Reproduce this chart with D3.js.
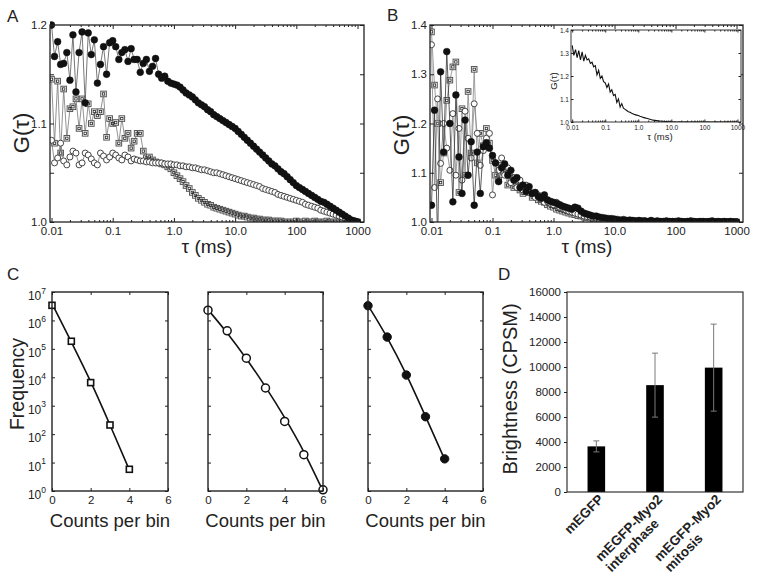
<!DOCTYPE html>
<html><head><meta charset="utf-8">
<script src="https://cdn.jsdelivr.net/npm/d3@7"></script>
<style>
body{margin:0;background:#fff}
svg{display:block}
text{font-family:"Liberation Sans",Arial,Helvetica,sans-serif;fill:#222}
</style>
</head><body>
<svg id="fig" width="763" height="576"></svg>
<script>
// ---------------- DATA ----------------
const tau = [0.01,0.0112,0.0126,0.0141,0.0158,0.0178,0.02,0.0224,0.0251,0.0282,0.0316,0.0355,0.0398,0.0447,0.0501,0.0562,0.0631,0.0708,0.0794,0.0891,
0.1,0.112,0.126,0.141,0.158,0.178,0.2,0.224,0.251,0.282,0.316,0.355,0.398,0.447,0.501,0.562,0.631,0.708,0.794,0.891,
1,1.12,1.26,1.41,1.58,1.78,2,2.24,2.51,2.82,3.16,3.55,3.98,4.47,5.01,5.62,6.31,7.08,7.94,8.91,
10,11.2,12.6,14.1,15.8,17.8,20,22.4,25.1,28.2,31.6,35.5,39.8,44.7,50.1,56.2,63.1,70.8,79.4,89.1,
100,112,126,141,158,178,200,224,251,282,316,355,398,447,501,562,631,708,794,891,1000];

const aFilled = [1.200,1.168,1.183,1.160,1.161,1.172,1.144,1.190,1.132,1.172,1.193,1.121,1.192,1.170,1.185,1.141,1.160,1.178,1.150,1.182,
1.184,1.178,1.165,1.172,1.175,1.163,1.176,1.165,1.165,1.152,1.161,1.165,1.153,1.158,1.166,1.150,1.146,1.148,1.143,1.141,
1.140,1.139,1.137,1.134,1.131,1.129,1.127,1.124,1.121,1.119,1.117,1.114,1.112,1.109,1.107,1.105,1.103,1.101,1.099,1.097,
1.095,1.092,1.089,1.086,1.083,1.080,1.077,1.074,1.071,1.068,1.065,1.062,1.059,1.057,1.054,1.051,1.049,1.046,1.043,1.040,
1.037,1.035,1.033,1.031,1.029,1.027,1.025,1.023,1.021,1.020,1.018,1.016,1.014,1.012,1.010,1.008,1.006,1.004,1.002,1.001,1.000];

const aSquare = [1.145,1.080,1.143,1.070,1.135,1.085,1.115,1.117,1.125,1.095,1.125,1.090,1.120,1.100,1.112,1.108,1.112,1.130,1.086,1.105,
1.100,1.101,1.080,1.105,1.085,1.090,1.075,1.082,1.090,1.090,1.072,1.065,1.066,1.063,1.061,1.060,1.059,1.058,1.056,1.054,
1.050,1.047,1.044,1.041,1.037,1.034,1.030,1.027,1.024,1.022,1.020,1.018,1.017,1.015,1.014,1.013,1.012,1.011,1.010,1.009,
1.008,1.007,1.006,1.006,1.005,1.004,1.004,1.003,1.003,1.002,1.002,1.002,1.001,1.001,1.001,1.001,1.000,1.000,1.000,1.000,
1.001,1.000,1.000,1.001,1.000,1.000,1.001,1.000,1.000,1.000,1.001,1.000,1.000,1.000,1.000,1.000,1.000,1.000,1.000,1.000,1.000];

const aOpen = [1.083,1.060,1.065,1.080,1.062,1.058,1.066,1.072,1.070,1.058,1.060,1.070,1.068,1.064,1.060,1.058,1.070,1.067,1.063,1.066,
1.070,1.068,1.065,1.063,1.068,1.066,1.062,1.064,1.063,1.062,1.062,1.061,1.061,1.060,1.060,1.060,1.060,1.059,1.059,1.059,
1.058,1.058,1.057,1.057,1.056,1.056,1.055,1.055,1.054,1.053,1.053,1.052,1.051,1.050,1.050,1.049,1.048,1.047,1.046,1.045,
1.044,1.043,1.042,1.041,1.040,1.039,1.038,1.037,1.036,1.034,1.033,1.032,1.031,1.030,1.028,1.027,1.026,1.025,1.024,1.023,
1.022,1.021,1.020,1.018,1.017,1.016,1.015,1.014,1.012,1.011,1.010,1.009,1.008,1.007,1.006,1.005,1.004,1.003,1.002,1.001,1.000];

const bFilled = [1.034,1.227,0.960,1.305,1.142,1.346,1.200,1.041,1.258,1.132,1.058,1.207,1.095,1.163,1.034,1.142,1.058,1.153,1.161,1.150,
1.135,1.120,1.082,1.110,1.118,1.095,1.105,1.085,1.090,1.070,1.075,1.062,1.072,1.058,1.060,1.052,1.048,1.055,1.045,1.042,
1.040,1.038,1.035,1.032,1.030,1.028,1.026,1.030,1.028,1.022,1.018,1.016,1.014,1.012,1.012,1.010,1.009,1.008,1.007,1.007,
1.006,1.005,1.004,1.005,1.003,1.004,1.003,1.002,1.003,1.002,1.002,1.001,1.003,1.001,1.002,1.001,1.001,1.002,1.001,1.001,
1.001,1.002,1.001,1.000,1.001,1.002,1.001,1.000,1.001,1.001,1.000,1.001,1.002,1.000,1.001,1.000,1.001,1.000,1.001,1.000,1.000];

const bSquare = [1.386,1.278,1.200,1.080,1.140,1.247,1.288,1.315,1.325,1.060,1.230,1.095,1.265,1.140,1.310,1.120,1.180,1.155,1.190,1.160,
1.125,1.095,1.085,1.115,1.100,1.075,1.090,1.070,1.080,1.065,1.058,1.072,1.060,1.050,1.055,1.045,1.042,1.040,1.035,1.032,
1.030,1.026,1.024,1.022,1.020,1.018,1.016,1.015,1.013,1.012,1.010,1.009,1.008,1.007,1.006,1.005,1.005,1.004,1.004,1.003,
1.003,1.002,1.003,1.002,1.002,1.001,1.002,1.001,1.001,1.002,1.001,1.001,1.000,1.001,1.001,1.000,1.001,1.000,1.001,1.000,
1.000,1.001,1.000,1.001,1.000,1.000,1.001,1.000,1.000,1.001,1.000,1.000,1.001,1.000,1.000,1.001,1.000,1.000,1.000,1.001,1.000];

const bOpen = [1.360,1.070,1.250,1.119,1.200,1.150,1.105,1.220,1.095,1.190,1.085,1.225,1.170,1.130,1.240,1.180,1.115,1.145,1.170,1.180,
1.055,1.120,1.105,1.130,1.095,1.110,1.080,1.090,1.070,1.085,1.065,1.075,1.060,1.058,1.050,1.055,1.045,1.040,1.042,1.038,
1.035,1.040,1.030,1.028,1.025,1.022,1.020,1.018,1.016,1.014,1.012,1.011,1.010,1.009,1.008,1.007,1.006,1.005,1.005,1.004,
1.004,1.003,1.003,1.002,1.003,1.002,1.002,1.001,1.002,1.001,1.002,1.001,1.001,1.000,1.001,1.001,1.000,1.001,1.000,1.001,
1.000,1.001,1.000,1.000,1.001,1.000,1.001,1.000,1.000,1.000,1.001,1.000,1.000,1.001,1.000,1.000,1.000,1.001,1.000,1.000,1.000];

const bInset = [1.333,1.290,1.315,1.280,1.310,1.270,1.305,1.265,1.290,1.270,1.275,1.255,1.260,1.240,1.245,1.205,1.225,1.190,1.200,1.175,
1.170,1.150,1.165,1.130,1.140,1.115,1.120,1.085,1.100,1.065,1.080,1.060,1.055,1.050,1.045,1.042,1.038,1.035,1.032,1.030,
1.028,1.025,1.023,1.020,1.018,1.016,1.014,1.012,1.010,1.008,1.007,1.006,1.005,1.004,1.003,1.003,1.002,1.002,1.001,1.001,
1.001,1.000,1.001,1.000,1.000,1.001,1.000,1.000,1.000,1.001,1.000,1.000,1.000,1.000,1.001,1.000,1.000,1.000,1.000,1.000,
1.000,1.000,1.001,1.000,1.000,1.000,1.000,1.001,1.000,1.000,1.000,1.000,1.000,1.000,1.001,1.000,1.000,1.000,1.000,1.000,1.000];

const tauTicks = [0.01, 0.1, 1, 10, 100, 1000];
const tauTickLabels = ["0.01", "0.1", "1.0", "10.0", "100", "1000"];
const aYTicks = [1.0, 1.05, 1.1, 1.15, 1.2];
const aYLabels = {"1": "1.0", "1.1": "1.1", "1.2": "1.2"};
const bYTicks = [1.0, 1.1, 1.2, 1.3, 1.4];
const bYLabels = {"1": "1.0", "1.1": "1.1", "1.2": "1.2", "1.3": "1.3", "1.4": "1.4"};

const countsC1 = [0, 1, 2, 3, 4];
const freqC1 = [3.4e6, 1.85e5, 6.5e3, 2.1e2, 5.8];
const fitC1 = [3.9e6, 1.75e5, 7.0e3, 2.1e2, 5.5];
const countsC2 = [0, 1, 2, 3, 4, 5, 6];
const freqC2 = [2.3e6, 4.3e5, 4.7e4, 4.2e3, 2.8e2, 1.9e1, 1.1];
const fitC2 = [2.4e6, 3.6e5, 4.5e4, 4.6e3, 3.8e2, 2.4e1, 1.0];
const countsC3 = [0, 1, 2, 3, 4];
const freqC3 = [3.3e6, 2.6e5, 1.2e4, 4.1e2, 1.35e1];
const fitC3 = [3.4e6, 2.5e5, 1.25e4, 4.2e2, 1.3e1];
const cXTicks = [0, 2, 4, 6];
const cYTicks = [1, 10, 100, 1e3, 1e4, 1e5, 1e6, 1e7];
const cYExponents = ["0", "1", "2", "3", "4", "5", "6", "7"];

const categories = [["mEGFP"], ["mEGFP-Myo2", "interphase"], ["mEGFP-Myo2", "mitosis"]];
const brightness = [3650, 8550, 9950];
const brightnessErr = [440, 2560, 3480];
const dYTicks = [0, 2000, 4000, 6000, 8000, 10000, 12000, 14000, 16000];

// ---------------- DRAWING ----------------
const svg = d3.select("#fig");
const FONT = '"Liberation Sans",Arial,Helvetica,sans-serif';
const INK = "#222";

function styleAxis(sel, fs) {
  sel.select(".domain").remove();
  sel.selectAll("line").attr("stroke", INK).attr("stroke-width", 1);
  sel.selectAll("text").attr("font-size", fs).attr("font-family", FONT).attr("fill", "#333");
}

function frame(g, x0, x1, y0, y1, w) {
  g.append("rect").attr("x", x0).attr("y", y0).attr("width", x1 - x0).attr("height", y1 - y0)
    .attr("fill", "none").attr("stroke", INK).attr("stroke-width", w || 1.2);
}

function logTimeAxes(g, x, y, yTicks, yLabels, o) {
  const [x0, x1] = x.range();
  const [y1, y0] = y.range();
  const minor = x.ticks().filter(v => !tauTicks.some(t => Math.abs(t - v) / t < 1e-6));
  const lab = d => tauTickLabels[tauTicks.indexOf(d)];
  g.append("g").attr("transform", `translate(0,${y1})`)
    .call(d3.axisBottom(x).tickValues(tauTicks).tickSize(-o.t).tickPadding(o.px).tickFormat(lab))
    .call(s => styleAxis(s, o.fs));
  g.append("g").attr("transform", `translate(0,${y1})`)
    .call(d3.axisBottom(x).tickValues(minor).tickSize(-o.mt).tickFormat(""))
    .call(s => styleAxis(s, o.fs));
  g.append("g").attr("transform", `translate(0,${y0})`)
    .call(d3.axisTop(x).tickValues(tauTicks).tickSize(-o.t).tickFormat(""))
    .call(s => styleAxis(s, o.fs));
  g.append("g").attr("transform", `translate(0,${y0})`)
    .call(d3.axisTop(x).tickValues(minor).tickSize(-o.mt).tickFormat(""))
    .call(s => styleAxis(s, o.fs));
  g.append("g").attr("transform", `translate(${x0},0)`)
    .call(d3.axisLeft(y).tickValues(yTicks).tickSize(-o.t).tickPadding(o.py)
      .tickFormat(d => yLabels[String(+d.toFixed(2))] || ""))
    .call(s => styleAxis(s, o.fs));
  g.append("g").attr("transform", `translate(${x1},0)`)
    .call(d3.axisRight(y).tickValues(yTicks).tickSize(-o.t).tickFormat(""))
    .call(s => styleAxis(s, o.fs));
  frame(g, x0, x1, y0, y1, o.fw);
}

function drawSeries(g, x, y, vals, kind, lineColor) {
  const pts = tau.map((t, i) => ({ t: t, v: vals[i] }));
  g.append("path").datum(pts)
    .attr("d", d3.line().x(d => x(d.t)).y(d => y(d.v)))
    .attr("fill", "none").attr("stroke", lineColor).attr("stroke-width", 0.8);
  const m = g.append("g");
  if (kind === "filled") {
    m.selectAll("circle").data(pts).join("circle")
      .attr("cx", d => x(d.t)).attr("cy", d => y(d.v)).attr("r", 3.4)
      .attr("fill", "#111").attr("stroke", "#111").attr("stroke-width", 0.5);
  } else if (kind === "open") {
    m.selectAll("circle").data(pts).join("circle")
      .attr("cx", d => x(d.t)).attr("cy", d => y(d.v)).attr("r", 3.0)
      .attr("fill", "#fff").attr("stroke", "#333").attr("stroke-width", 0.9);
  } else {
    const s = 5.6;
    m.selectAll("rect").data(pts).join("rect")
      .attr("x", d => x(d.t) - s / 2).attr("y", d => y(d.v) - s / 2).attr("width", s).attr("height", s)
      .attr("fill", "#fff").attr("stroke", "#555").attr("stroke-width", 1);
    m.selectAll("rect.in").data(pts).join("rect").attr("class", "in")
      .attr("x", d => x(d.t) - 1.2).attr("y", d => y(d.v) - 1.2).attr("width", 2.4).attr("height", 2.4)
      .attr("fill", "none").attr("stroke", "#222").attr("stroke-width", 0.8);
  }
}

function clipFor(id, x0, x1, y0, y1) {
  svg.append("defs").append("clipPath").attr("id", id)
    .append("rect").attr("x", x0).attr("y", y0 - 6).attr("width", x1 - x0).attr("height", y1 - y0 + 6);
}

function label(txt, x, y, fs, opts) {
  const t = svg.append("text").attr("x", x).attr("y", y).attr("font-size", fs)
    .attr("font-family", FONT).attr("fill", INK).text(txt);
  if (opts && opts.anchor) t.attr("text-anchor", opts.anchor);
  if (opts && opts.rot) t.attr("transform", `rotate(${opts.rot},${x},${y})`);
  return t;
}

// ----- Panel A -----
{
  const x = d3.scaleLog().domain([0.00945, 1276]).range([50, 364]);
  const y = d3.scaleLinear().domain([1.0, 1.2]).range([222, 25]);
  const g = svg.append("g");
  clipFor("clipA", 50, 364, 25, 222);
  const data = g.append("g").attr("clip-path", "url(#clipA)");
  drawSeries(data, x, y, aSquare, "square", "#777");
  drawSeries(data, x, y, aOpen, "open", "#777");
  drawSeries(data, x, y, aFilled, "filled", "#555");
  logTimeAxes(g, x, y, aYTicks, aYLabels, { t: 4, mt: 2, px: 5, py: 3, fs: 11.5, fw: 1.3 });
  label("A", 7, 22, 17);
  label("G(τ)", 29, 133, 22, { anchor: "middle", rot: -90 });
  label("τ (ms)", 207, 253, 19, { anchor: "middle" });
}

// ----- Panel B -----
{
  const x = d3.scaleLog().domain([0.00945, 1276]).range([430, 743]);
  const y = d3.scaleLinear().domain([1.0, 1.4]).range([222, 25]);
  const g = svg.append("g");
  clipFor("clipB", 430, 743, 25, 222);
  const data = g.append("g").attr("clip-path", "url(#clipB)");
  drawSeries(data, x, y, bSquare, "square", "#888");
  drawSeries(data, x, y, bOpen, "open", "#888");
  drawSeries(data, x, y, bFilled, "filled", "#333");
  logTimeAxes(g, x, y, bYTicks, bYLabels, { t: 4, mt: 2, px: 5, py: 3, fs: 11.5, fw: 1.3 });
  label("B", 387, 21, 17);
  label("G(τ)", 409, 135, 22, { anchor: "middle", rot: -90 });
  label("τ (ms)", 587, 253, 19, { anchor: "middle" });

  const xi = d3.scaleLog().domain([0.0092, 1280]).range([571, 741]);
  const yi = d3.scaleLinear().domain([1.0, 1.4]).range([122, 30]);
  const gi = svg.append("g");
  gi.append("rect").attr("x", 571).attr("y", 30).attr("width", 170).attr("height", 92).attr("fill", "#fff");
  clipFor("clipI", 571, 741, 30, 122);
  const pts = tau.map((t, i) => ({ t: t, v: bInset[i] }));
  gi.append("g").attr("clip-path", "url(#clipI)").append("path").datum(pts)
    .attr("d", d3.line().x(d => xi(d.t)).y(d => yi(d.v)))
    .attr("fill", "none").attr("stroke", "#111").attr("stroke-width", 1.1);
  logTimeAxes(gi, xi, yi, bYTicks, bYLabels, { t: 2.5, mt: 1.5, px: 3, py: 2, fs: 6.5, fw: 0.9 });
  label("G(τ)", 557, 81, 9.5, { anchor: "middle", rot: -90 });
  label("τ (ms)", 660, 140, 9.5, { anchor: "middle" });
}

// ----- Panel C -----
{
  const subs = [
    { x0: 52, x1: 168, counts: countsC1, freq: freqC1, fit: fitC1, kind: "square", yLabels: true },
    { x0: 208, x1: 323, counts: countsC2, freq: freqC2, fit: fitC2, kind: "open", yLabels: false },
    { x0: 368, x1: 483, counts: countsC3, freq: freqC3, fit: fitC3, kind: "filled", yLabels: false }
  ];
  const yT = 292, yB = 491;
  subs.forEach(sp => {
    const x = d3.scaleLinear().domain([0, 6]).range([sp.x0, sp.x1]);
    const y = d3.scaleLog().domain([1, 1e7]).range([yB, yT]);
    const g = svg.append("g");
    const fitPts = sp.counts.map((c, i) => ({ c: c, f: sp.fit[i] }));
    g.append("path").datum(fitPts)
      .attr("d", d3.line().curve(d3.curveMonotoneX).x(d => x(d.c)).y(d => y(d.f)))
      .attr("fill", "none").attr("stroke", "#111").attr("stroke-width", 1.6);
    const pts = sp.counts.map((c, i) => ({ c: c, f: sp.freq[i] }));
    if (sp.kind === "square") {
      g.selectAll("rect.m").data(pts).join("rect").attr("class", "m")
        .attr("x", d => x(d.c) - 3).attr("y", d => y(d.f) - 3).attr("width", 6).attr("height", 6)
        .attr("fill", "#fff").attr("stroke", "#111").attr("stroke-width", 1.6);
    } else if (sp.kind === "open") {
      g.selectAll("circle").data(pts).join("circle")
        .attr("cx", d => x(d.c)).attr("cy", d => y(d.f)).attr("r", 4)
        .attr("fill", "#fff").attr("stroke", "#111").attr("stroke-width", 1.5);
    } else {
      g.selectAll("circle").data(pts).join("circle")
        .attr("cx", d => x(d.c)).attr("cy", d => y(d.f)).attr("r", 4.2)
        .attr("fill", "#111").attr("stroke", "#111");
    }
    g.append("g").attr("transform", `translate(0,${yB})`)
      .call(d3.axisBottom(x).tickValues(cXTicks).tickSize(-3).tickPadding(5).tickFormat(d3.format("d")))
      .call(s => styleAxis(s, 11.5));
    g.append("g").attr("transform", `translate(0,${yT})`)
      .call(d3.axisTop(x).tickValues(cXTicks).tickSize(-3).tickFormat(""))
      .call(s => styleAxis(s, 11.5));
    const la = g.append("g").attr("transform", `translate(${sp.x0},0)`)
      .call(d3.axisLeft(y).tickValues(cYTicks).tickSize(-3).tickPadding(6).tickFormat(d => sp.yLabels ? "10" : ""))
      .call(s => styleAxis(s, 12));
    if (sp.yLabels) {
      la.selectAll(".tick text").attr("dy", "0.62em").each(function (d) {
        d3.select(this).append("tspan").attr("dy", "-0.75em").attr("font-size", 8.5)
          .text(cYExponents[cYTicks.indexOf(d)]);
      });
    }
    g.append("g").attr("transform", `translate(${sp.x1},0)`)
      .call(d3.axisRight(y).tickValues(cYTicks).tickSize(-3).tickFormat(""))
      .call(s => styleAxis(s, 12));
    frame(g, sp.x0, sp.x1, yT, yB, 1.4);
    label("Counts per bin", (sp.x0 + sp.x1) / 2, 527, 18.5, { anchor: "middle" });
  });
  label("C", 7, 280, 17);
  label("Frequency", 24, 384, 19.5, { anchor: "middle", rot: -90 });
}

// ----- Panel D -----
{
  const x = d3.scaleBand().domain(categories.map(c => c.join(" "))).range([567, 743]).paddingInner(0.7).paddingOuter(0.35);
  const y = d3.scaleLinear().domain([0, 16000]).range([492, 292]);
  const g = svg.append("g");
  const rows = categories.map((c, i) => ({ key: c.join(" "), lines: c, v: brightness[i], e: brightnessErr[i] }));
  g.selectAll("rect.bar").data(rows).join("rect").attr("class", "bar")
    .attr("x", d => x(d.key)).attr("width", x.bandwidth())
    .attr("y", d => y(d.v)).attr("height", d => y(0) - y(d.v)).attr("fill", "#000");
  const eb = g.selectAll("g.eb").data(rows).join("g").attr("class", "eb")
    .attr("stroke", "#7a7a7a").attr("stroke-width", 1);
  const cx = d => x(d.key) + x.bandwidth() / 2;
  eb.append("line").attr("x1", cx).attr("x2", cx).attr("y1", d => y(d.v + d.e)).attr("y2", d => y(d.v - d.e));
  eb.append("line").attr("x1", d => cx(d) - 3).attr("x2", d => cx(d) + 3).attr("y1", d => y(d.v + d.e)).attr("y2", d => y(d.v + d.e));
  eb.append("line").attr("x1", d => cx(d) - 3).attr("x2", d => cx(d) + 3).attr("y1", d => y(d.v - d.e)).attr("y2", d => y(d.v - d.e));

  g.append("g").attr("transform", "translate(567,0)")
    .call(d3.axisLeft(y).tickValues(dYTicks).tickSize(3).tickPadding(3).tickFormat(d3.format("d")))
    .call(s => styleAxis(s, 11.5));
  frame(g, 567, 743, 292, 492, 1.1);

  // rotated category labels: one text element per line, lines left-aligned
  rows.forEach(r => {
    const ax = cx(r) + 1, ay = 493;
    const gl = g.append("g").attr("transform", `translate(${ax},${ay}) rotate(-45)`);
    const first = gl.append("text").attr("x", 0).attr("y", 0).attr("dy", "0.75em")
      .attr("font-size", 13.5).attr("font-weight", "bold").attr("font-family", FONT).attr("fill", "#111")
      .text(r.lines[0]);
    const w = first.node().getComputedTextLength();
    first.attr("x", -w);
    r.lines.slice(1).forEach((ln, k) => {
      gl.append("text").attr("x", -w).attr("y", 14.8 * (k + 1)).attr("dy", "0.75em")
        .attr("font-size", 13.5).attr("font-weight", "bold").attr("font-family", FONT).attr("fill", "#111")
        .text(ln);
    });
  });
  label("D", 498, 280, 17);
  label("Brightness (CPSM)", 517, 389, 20, { anchor: "middle", rot: -90 });
}
</script>
</body></html>
